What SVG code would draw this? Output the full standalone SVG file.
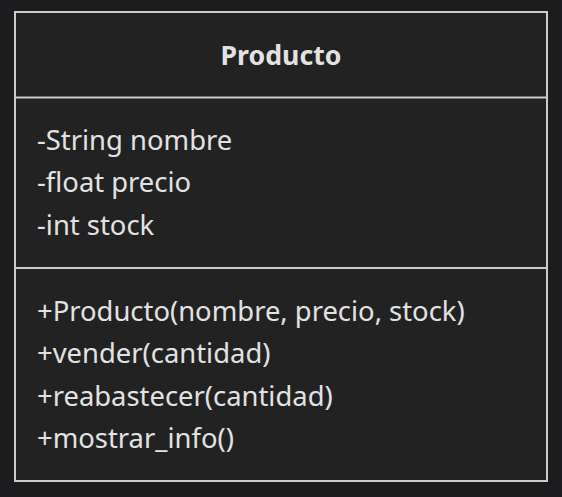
<svg xmlns="http://www.w3.org/2000/svg" width="562" height="497" viewBox="0 0 562 497">
<style>
.t{font-family:"Noto Sans","DejaVu Sans",sans-serif;font-size:27.4px;fill:#e2e2e2}
.h{font-weight:bold;text-anchor:middle;font-size:26.7px}
.box{fill:#222222;stroke:#cccccc;stroke-width:2}
.div{stroke:#cccccc;stroke-width:2}
</style>
<rect x="0" y="0" width="562" height="497" fill="#1c1c1e"/>
<g id="Producto">
<rect class="box" x="15" y="12" width="532" height="469"/>
<line class="div" x1="15" y1="97.5" x2="547" y2="97.5"/>
<line class="div" x1="15" y1="268" x2="547" y2="268"/>
<text class="t h" x="281" y="65">Producto</text>
<text class="t" x="37" y="150">-String nombre</text>
<text class="t" x="37" y="192">-float precio</text>
<text class="t" x="37" y="235">-int stock</text>
<text class="t" x="37" y="321">+Producto(nombre, precio, stock)</text>
<text class="t" x="37" y="363">+vender(cantidad)</text>
<text class="t" x="37" y="406">+reabastecer(cantidad)</text>
<text class="t" x="37" y="448">+mostrar_info()</text>
</g>
<g id="connectors"/>
</svg>
